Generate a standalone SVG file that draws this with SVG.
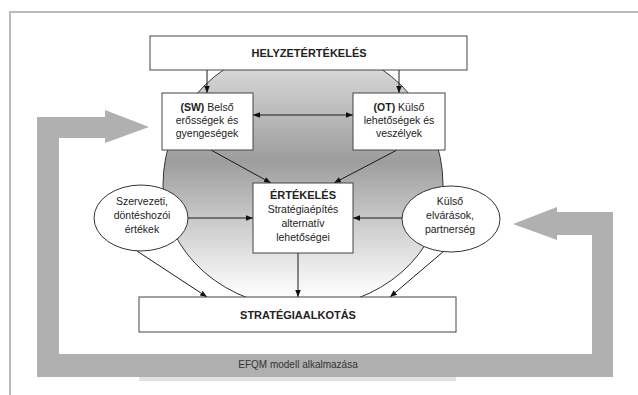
<svg xmlns="http://www.w3.org/2000/svg" width="638" height="395" viewBox="0 0 638 395">
<style>
.box{fill:#fff;stroke:#444;stroke-width:1}
.ell{fill:#fff;stroke:#333;stroke-width:1}
.t{font-family:"Liberation Sans",Arial,sans-serif;font-size:10.5px;fill:#222;text-anchor:middle}
.b{font-weight:bold;font-size:11px}
.con{stroke:#1a1a1a;stroke-width:1;fill:none}
</style>
<defs>
<linearGradient id="g" gradientUnits="userSpaceOnUse" x1="0" y1="45" x2="0" y2="308">
<stop offset="0" stop-color="#eeeeee"/>
<stop offset="0.13" stop-color="#d0d0d0"/>
<stop offset="0.44" stop-color="#9d9d9d"/>
<stop offset="0.70" stop-color="#d0d0d0"/>
<stop offset="0.93" stop-color="#fafafa"/>
<stop offset="1" stop-color="#ffffff"/>
</linearGradient>
<marker id="ah" viewBox="0 0 10 10" refX="10" refY="5" markerWidth="7" markerHeight="7" markerUnits="userSpaceOnUse" orient="auto-start-reverse">
<path d="M0,1 L10,5 L0,9 z" fill="#111"/>
</marker>
</defs>
<rect width="638" height="395" fill="#fff"/>
<path d="M10,395 V12 H638" fill="none" stroke="#bbb" stroke-width="2"/>
<g id="efqm-loop">
<rect x="139" y="376" width="317" height="5" fill="#e2e2e2"/>
<polygon fill="#b0b0b0" points="149,127 105,110 105,117 37,117 37,377 613,377 613,212 557,212 557,207 513,224 557,240 557,235 592,235 592,354 59,354 59,138 105,138 105,143"/>
<text class="t" x="298" y="368" style="font-size:10px;fill:#333">EFQM modell alkalmazása</text>
</g>
<g id="circle">
<path d="M163,185 A140,140 0 0 1 443,185 A140,123 0 0 1 163,185 Z" fill="url(#g)" stroke="#333" stroke-width="1"/>
</g>
<g id="connectors">
<path class="con" d="M207,70 V93" marker-end="url(#ah)"/>
<path class="con" d="M399,70 V93" marker-end="url(#ah)"/>
<path class="con" d="M253,115 H353" marker-start="url(#ah)" marker-end="url(#ah)"/>
<path class="con" d="M211,150 L271,183" marker-end="url(#ah)"/>
<path class="con" d="M397,150 L334,183" marker-end="url(#ah)"/>
<path class="con" d="M188,218 H253" marker-end="url(#ah)"/>
<path class="con" d="M402,218 H353" marker-end="url(#ah)"/>
<path class="con" d="M298,253 V297" marker-end="url(#ah)"/>
<path class="con" d="M137,251 L207,297" marker-end="url(#ah)"/>
<path class="con" d="M444,251 L390,297" marker-end="url(#ah)"/>
</g>
<g id="helyzet">
<rect class="box" x="150" y="36" width="317" height="34"/>
<text class="t b" x="309" y="57">HELYZETÉRTÉKELÉS</text>
</g>
<g id="sw">
<rect class="box" x="162" y="93" width="91" height="57"/>
<text class="t" x="207" y="111"><tspan style="font-weight:bold">(SW)</tspan> Belső</text>
<text class="t" x="207" y="124">erősségek és</text>
<text class="t" x="207" y="137">gyengeségek</text>
</g>
<g id="ot">
<rect class="box" x="353" y="93" width="92" height="57"/>
<text class="t" x="399" y="111"><tspan style="font-weight:bold">(OT)</tspan> Külső</text>
<text class="t" x="399" y="124">lehetőségek és</text>
<text class="t" x="399" y="137">veszélyek</text>
</g>
<g id="ertekeles">
<rect class="box" x="253" y="183" width="100" height="70"/>
<text class="t b" x="303" y="199">ÉRTÉKELÉS</text>
<text class="t" x="303" y="213">Stratégiaépítés</text>
<text class="t" x="303" y="227">alternatív</text>
<text class="t" x="303" y="241">lehetőségei</text>
</g>
<g id="szervezeti">
<ellipse class="ell" cx="141" cy="218" rx="47" ry="33"/>
<text class="t" x="142" y="205">Szervezeti,</text>
<text class="t" x="142" y="219">döntéshozói</text>
<text class="t" x="142" y="233">értékek</text>
</g>
<g id="kulso">
<ellipse class="ell" cx="451" cy="219" rx="49" ry="33"/>
<text class="t" x="450" y="205">Külső</text>
<text class="t" x="450" y="219">elvárások,</text>
<text class="t" x="450" y="233">partnerség</text>
</g>
<g id="strategia">
<rect class="box" x="139" y="297" width="317" height="35"/>
<text class="t b" x="298" y="319">STRATÉGIAALKOTÁS</text>
</g>
</svg>
